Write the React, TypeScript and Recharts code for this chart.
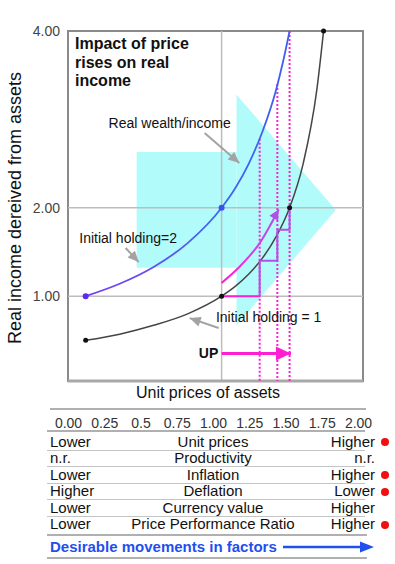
import React from 'react';
import { ComposedChart, Line, XAxis, YAxis, ReferenceLine, ReferenceArea, ReferenceDot } from 'recharts';

// curves: real income for each price level
const priceGrid = [0, 0.25, 0.5, 0.75, 1, 1.1, 1.2, 1.3, 1.4, 1.5, 1.6, 1.7, 1.75];
const incomeHolding1 = [0.5, 0.57, 0.67, 0.8, 1, 1.11, 1.25, 1.43, 1.67, 2, 2.5, 3.33, 4];
const priceGrid2 = [0, 0.25, 0.5, 0.75, 1, 1.1, 1.2, 1.3, 1.4, 1.45, 1.5];
const incomeHolding2 = [1, 1.14, 1.33, 1.6, 2, 2.22, 2.5, 2.86, 3.33, 3.64, 4];

// magenta rise + purple steps
const risePrices = [1, 1.13, 1.28, 1.42];
const riseIncome = [1.15, 1.33, 1.6, 1.98];
const stepPrices = [1.28, 1.28, 1.41, 1.41, 1.5, 1.5];
const stepIncome = [1.0, 1.4, 1.4, 1.75, 1.75, 2.0];
const dropPrices = [1.28, 1.41, 1.5];
const dropTops = [2.78, 3.4, 4];

const holding1Marks = [[0, 0.5], [1, 1], [1.5, 2], [1.75, 4]];
const holding2Marks = [[0, 1], [1, 2]];

const yTicks = [1, 2, 4];
const priceTicks = ['0.00', '0.25', '0.5', '0.75', '1.00', '1.25', '1.50', '1.75', '2.00'];
const factorNames = ['Unit prices', 'Productivity', 'Inflation', 'Deflation', 'Currency value', 'Price Performance Ratio'];
const lowEnd = ['Lower', 'n.r.', 'Lower', 'Higher', 'Lower', 'Lower'];
const highEnd = ['Higher', 'n.r.', 'Higher', 'Lower', 'Higher', 'Higher'];
const flagged = [true, false, true, true, false, true];

const X_DOMAIN = [-0.13, 2.04];
const Y_DOMAIN = [0.04, 4];
const FONT = '"Liberation Sans", Arial, Helvetica, sans-serif';

const pts = (xs: number[], ys: number[]) => xs.map((x, i) => ({ x, y: ys[i] }));

function arrowHead(color: string, len: number, half: number, last: number, fallback = 0) {
    return (props: any) => {
        const { cx, cy, index, points } = props;
        if (index !== last || cx == null) return <g key={`a-${index}`} />;
        let ang = fallback;
        if (points && points.length > 1) {
            const p = points[points.length - 2];
            ang = Math.atan2(cy - p.y, cx - p.x);
        }
        const bx = cx - len * Math.cos(ang);
        const by = cy - len * Math.sin(ang);
        const nx = -Math.sin(ang) * half;
        const ny = Math.cos(ang) * half;
        return (
            <polygon
                key={`a-${index}`}
                points={`${cx},${cy} ${bx + nx},${by + ny} ${bx - nx},${by - ny}`}
                fill={color}
            />
        );
    };
}

const headShape = (props: any) => {
    const { x, y, width, height } = props;
    return <polygon points={`${x},${y} ${x + width},${y + height / 2} ${x},${y + height}`} fill="#b2fbfb" />;
};

const yLabel = (props: any) => {
    const vb = props.viewBox || { x: 0, y: 31, width: 68, height: 350 };
    const cx = vb.x + 15;
    const cy = vb.y + vb.height / 2 + 2;
    return (
        <text x={cx} y={cy} transform={`rotate(-90, ${cx}, ${cy})`} textAnchor="middle" dominantBaseline="central"
            fontSize={18} fill="#111" fontFamily={FONT}>
            Real income dereived from assets
        </text>
    );
};

const gray = '#a3a3a3';
const magenta = '#ff1fd2';
const purple = '#b050e6';

export default function App() {
    const grayArrows = [
        pts([0.875, 1.13], [2.846, 2.506]),
        pts([0.294, 0.39], [1.545, 1.385]),
        pts([0.978, 0.765], [0.639, 0.752]),
    ];

    return (
        <div style={{ position: 'absolute', left: 0, top: 0, width: 395, height: 564, background: '#fff', fontFamily: FONT, color: '#111' }}>
            <ComposedChart width={395} height={400} margin={{ top: 31, right: 32, bottom: 19, left: 0 }}>
                <defs>
                    <linearGradient id="blueGrad" x1="0" y1="0" x2="1" y2="0">
                        <stop offset="0%" stopColor="#7a3cf6" />
                        <stop offset="35%" stopColor="#5f52f0" />
                        <stop offset="60%" stopColor="#4466ee" />
                        <stop offset="100%" stopColor="#3d5ff0" />
                    </linearGradient>
                    <linearGradient id="riseGrad" x1="0" y1="1" x2="0" y2="0">
                        <stop offset="0%" stopColor={magenta} />
                        <stop offset="45%" stopColor="#d040e8" />
                        <stop offset="100%" stopColor={purple} />
                    </linearGradient>
                </defs>
                <XAxis type="number" dataKey="x" domain={X_DOMAIN} allowDataOverflow hide />
                <YAxis
                    type="number"
                    domain={Y_DOMAIN}
                    allowDataOverflow
                    ticks={yTicks}
                    interval={0}
                    width={68}
                    axisLine={false}
                    tickLine={false}
                    tick={{ fill: '#444', fontSize: 14, fontFamily: FONT }}
                    tickFormatter={(v: number) => v.toFixed(2)}
                    label={{ content: yLabel }}
                />

                {/* big cyan arrow */}
                <ReferenceArea x1={0.375} x2={1.11} y1={1.32} y2={2.63} fill="#b2fbfb" fillOpacity={1} stroke="none" />
                <ReferenceArea x1={1.11} x2={1.84} y1={0.67} y2={3.28} shape={headShape} />

                <ReferenceLine y={1} stroke="#bdbdbd" strokeWidth={1.5} />
                <ReferenceLine y={2} stroke="#bdbdbd" strokeWidth={1.5} />
                <ReferenceLine x={1} stroke="#bdbdbd" strokeWidth={1.5} />
                <ReferenceArea x1={X_DOMAIN[0]} x2={X_DOMAIN[1]} y1={Y_DOMAIN[0]} y2={Y_DOMAIN[1]} fill="none" stroke="#8a8a8a" strokeWidth={2} />
                <ReferenceLine y={Y_DOMAIN[0]} stroke="#a8a8a8" strokeWidth={3} />

                {dropPrices.map((x, i) => (
                    <Line key={`drop-${i}`} data={pts([x, x], [dropTops[i], Y_DOMAIN[0]])} dataKey="y" type="linear"
                        stroke={magenta} strokeWidth={2} strokeDasharray="2 2" dot={false} activeDot={false} isAnimationActive={false} />
                ))}

                <Line data={pts(priceGrid, incomeHolding1)} dataKey="y" type="monotone" stroke="#454545" strokeWidth={1.5}
                    dot={false} activeDot={false} isAnimationActive={false} />
                <Line data={pts(priceGrid2, incomeHolding2)} dataKey="y" type="monotone" stroke="url(#blueGrad)" strokeWidth={1.8}
                    dot={false} activeDot={false} isAnimationActive={false} />

                <Line data={pts([1, 1.28], [1, 1])} dataKey="y" type="linear" stroke={magenta} strokeWidth={2}
                    dot={false} activeDot={false} isAnimationActive={false} />
                <Line data={pts(stepPrices, stepIncome)} dataKey="y" type="linear" stroke={purple} strokeWidth={2}
                    dot={false} activeDot={false} isAnimationActive={false} />
                <Line data={pts(risePrices, riseIncome)} dataKey="y" type="monotone" stroke="url(#riseGrad)" strokeWidth={2}
                    dot={arrowHead(purple, 10, 5, risePrices.length - 1, -1.05)} activeDot={false} isAnimationActive={false} />

                {grayArrows.map((d, i) => (
                    <Line key={`ga-${i}`} data={d} dataKey="y" type="linear" stroke={gray} strokeWidth={2}
                        dot={arrowHead(gray, 11, 5, 1)} activeDot={false} isAnimationActive={false} />
                ))}

                <Line data={pts([1.0, 1.51], [0.35, 0.35])} dataKey="y" type="linear" stroke={magenta} strokeWidth={3}
                    dot={arrowHead(magenta, 15, 7, 1)} activeDot={false} isAnimationActive={false} />

                {holding1Marks.map(([x, y], i) => (
                    <ReferenceDot key={`h1-${i}`} x={x} y={y} r={2.5} fill="#111" stroke="none" />
                ))}
                {holding2Marks.map(([x, y], i) => (
                    <ReferenceDot key={`h2-${i}`} x={x} y={y} r={3} fill={i === 0 ? '#5a2cf0' : '#3355ee'} stroke="none" />
                ))}

                <ReferenceDot x={0.618} y={2.96} r={0} fill="none" stroke="none"
                    label={{ value: 'Real wealth/income', position: 'center', fill: '#111', fontSize: 14, fontFamily: FONT }} />
                <ReferenceDot x={0.3125} y={1.657} r={0} fill="none" stroke="none"
                    label={{ value: 'Initial holding=2', position: 'center', fill: '#111', fontSize: 14, fontFamily: FONT }} />
                <ReferenceDot x={1.346} y={0.764} r={0} fill="none" stroke="none"
                    label={{ value: 'Initial holding = 1', position: 'center', fill: '#111', fontSize: 14, fontFamily: FONT }} />
                <ReferenceDot x={0.904} y={0.355} r={0} fill="none" stroke="none"
                    label={{ value: 'UP', position: 'center', fill: '#111', fontSize: 14, fontWeight: 700, fontFamily: FONT }} />
            </ComposedChart>

            <div style={{ position: 'absolute', left: 75, top: 35, fontSize: 16, fontWeight: 700, lineHeight: '18.5px' }}>
                Impact of price<br />rises on real<br />income
            </div>

            <div style={{ position: 'absolute', left: 0, width: 416, top: 384, textAlign: 'center', fontSize: 16, lineHeight: '18px' }}>
                Unit prices of assets
            </div>

            {/* factor table */}
            <div style={{ position: 'absolute', left: 50, width: 316, top: 408, height: 2, background: '#b0b0b0' }} />
            {priceTicks.map((t, i) => (
                <div key={t} style={{ position: 'absolute', left: 68.5 + i * 36.25 - 20, width: 40, top: 414, textAlign: 'center', fontSize: 14, lineHeight: '18px', color: '#333' }}>
                    {t}
                </div>
            ))}
            <div style={{ position: 'absolute', left: 47, width: 318, top: 430, height: 2, background: '#b0b0b0' }} />
            {factorNames.map((name, i) => {
                const top = 433.5 + i * 16.5;
                return (
                    <React.Fragment key={name}>
                        <div style={{ position: 'absolute', left: 50, top, fontSize: 15, lineHeight: '16.5px' }}>{lowEnd[i]}</div>
                        <div style={{ position: 'absolute', left: 113, width: 200, top, fontSize: 15, lineHeight: '16.5px', textAlign: 'center' }}>{name}</div>
                        <div style={{ position: 'absolute', right: 395 - 375, top, fontSize: 15, lineHeight: '16.5px', textAlign: 'right' }}>{highEnd[i]}</div>
                        {flagged[i] && (
                            <div style={{ position: 'absolute', left: 381, top: top + 4.5, width: 8, height: 8, borderRadius: 4, background: '#ee1111' }} />
                        )}
                        {i < factorNames.length - 1 && (
                            <div style={{ position: 'absolute', left: 47, width: 318, top: top + 16, height: 1, background: '#c4c4c4' }} />
                        )}
                    </React.Fragment>
                );
            })}
            <div style={{ position: 'absolute', left: 47, width: 320, top: 534, height: 2, background: '#b0b0b0' }} />
            <div style={{ position: 'absolute', left: 50, top: 538, fontSize: 15, fontWeight: 700, lineHeight: '18px', color: '#1f4ff0' }}>
                Desirable movements in factors
            </div>
            <svg style={{ position: 'absolute', left: 280, top: 540 }} width={96} height={14}>
                <line x1={3} y1={7} x2={84} y2={7} stroke="#1f4ff0" strokeWidth={2.5} />
                <polygon points="94,7 80,1.5 80,12.5" fill="#1f4ff0" />
            </svg>
            <div style={{ position: 'absolute', left: 47, width: 320, top: 557, height: 2, background: '#b0b0b0' }} />
        </div>
    );
}
